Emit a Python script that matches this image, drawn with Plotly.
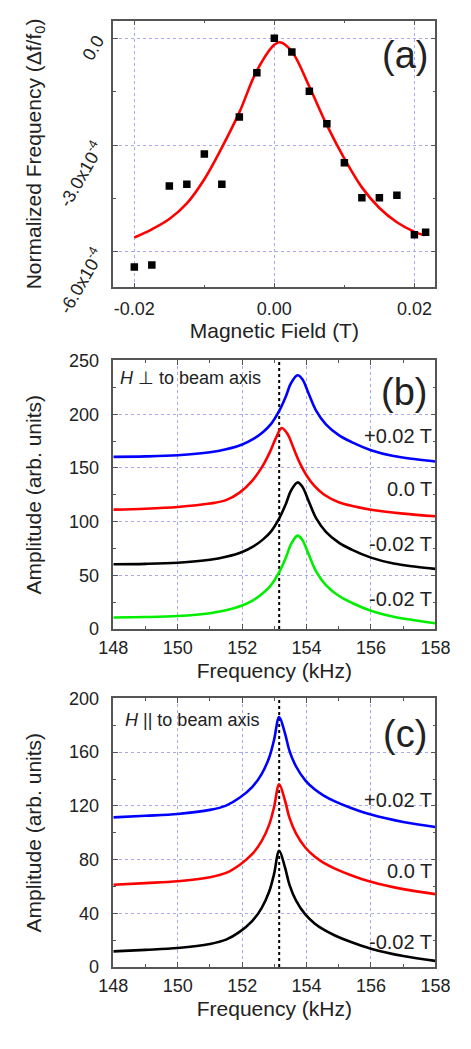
import plotly.graph_objects as go

# ---------------- Panel (a) data ----------------
a_field = [-0.02, -0.0175, -0.015, -0.0125, -0.01, -0.0075, -0.005, -0.0025, 0.0,
           0.0025, 0.005, 0.0075, 0.01, 0.0125, 0.015, 0.0175, 0.02, 0.0216]
a_dfreq = [-6.43e-4, -6.37e-4, -4.15e-4, -4.10e-4, -3.25e-4, -4.10e-4, -2.21e-4, -0.97e-4, 0.0,
           -0.38e-4, -1.49e-4, -2.40e-4, -3.50e-4, -4.48e-4, -4.48e-4, -4.41e-4, -5.52e-4, -5.45e-4]

fit_field = [-0.02, -0.0175, -0.015, -0.0125, -0.01, -0.0075, -0.005, -0.0025, 0.0, 0.0008,
             0.0025, 0.005, 0.0075, 0.01, 0.0125, 0.015, 0.0175, 0.02, 0.0215]
fit_dfreq = [-5.60e-4, -5.37e-4, -5.08e-4, -4.64e-4, -3.96e-4, -3.07e-4, -2.08e-4, -0.91e-4, -0.18e-4, -0.11e-4,
             -0.37e-4, -1.36e-4, -2.44e-4, -3.38e-4, -4.19e-4, -4.77e-4, -5.17e-4, -5.44e-4, -5.54e-4]

a_yticks = [0.0, -3.0e-4, -6.0e-4]
a_yticklabels = ["0.0", "-3.0x10<sup>-4</sup>", "-6.0x10<sup>-4</sup>"]
a_xticks = [-0.02, 0.0, 0.02]
a_xticklabels = ["-0.02", "0.00", "0.02"]

# ---------------- Panel (b) data (H perpendicular) ----------------
b_freq = [148, 149, 150, 151, 151.5, 152, 152.35, 152.65, 152.9, 153.15, 153.35, 153.52, 153.72,
          153.87, 154.06, 154.3, 154.6, 155.0, 155.4, 156, 156.7, 157.4, 158]
b_plus = [160.3, 160.7, 161.8, 164.5, 167.3, 171.8, 177.0, 183.5, 191.0, 203.0, 216.0, 229.0, 236.2,
          232.5, 219.5, 203.0, 190.5, 180.5, 174.0, 166.5, 161.0, 158.0, 156.0]
b_minus = [60.3, 60.7, 61.8, 64.5, 67.3, 71.8, 77.0, 83.5, 91.0, 103.0, 116.0, 129.0, 136.5,
           132.5, 119.5, 103.0, 90.5, 80.5, 74.0, 66.5, 61.0, 58.0, 56.0]
b_minus2 = [10.8, 11.2, 12.2, 14.8, 17.5, 22.0, 27.0, 33.5, 41.0, 53.0, 66.0, 79.0, 87.0,
            83.0, 70.0, 53.5, 41.0, 31.0, 24.5, 17.0, 11.5, 8.0, 5.5]
b_zero_freq = [148, 149, 150, 151, 151.5, 151.92, 152.31, 152.6, 152.85, 153.05, 153.23, 153.42,
               153.6, 153.8, 154.0, 154.25, 154.55, 155.0, 155.5, 156, 157, 158]
b_zero = [111.2, 112.0, 113.6, 116.8, 120.0, 127.0, 138.0, 150.0, 164.0, 178.0, 187.2, 181.0,
          168.0, 154.0, 143.0, 133.0, 125.0, 118.0, 114.0, 111.0, 107.5, 105.0]

# ---------------- Panel (c) data (H parallel) ----------------
c_freq = [148, 149, 150, 151, 151.5, 151.92, 152.31, 152.6, 152.84, 152.99, 153.15, 153.33, 153.47,
          153.67, 153.96, 154.25, 154.52, 154.88, 155.36, 156, 157, 158]
c_plus = [111.4, 112.6, 114.0, 117.0, 120.2, 126.0, 134.0, 143.5, 156.0, 169.0, 186.1, 174.0, 161.0,
          149.5, 139.0, 132.3, 127.8, 123.3, 118.6, 113.5, 108.0, 104.3]
c_zero = [61.3, 62.5, 63.9, 66.9, 70.1, 76.0, 84.0, 93.5, 106.0, 119.0, 136.0, 124.0, 111.0,
          99.5, 89.0, 82.3, 77.8, 73.3, 68.6, 63.5, 58.0, 54.3]
c_minus = [11.7, 12.8, 14.2, 17.2, 20.4, 26.2, 34.2, 43.7, 56.2, 69.2, 86.6, 74.2, 61.2,
           49.7, 39.2, 32.5, 28.0, 23.5, 18.8, 13.7, 8.2, 4.6]

ref_freq = 153.15   # dotted reference line (kHz)
b_ymax = 250
c_ymax = 200

FONT = "Liberation Sans, Arial, sans-serif"
TXT = "#222222"
GRID = "#a9a9f0"
FRAME = "#555555"

fig = go.Figure()

# panel (a)
fig.add_trace(go.Scatter(x=fit_field, y=fit_dfreq, mode="lines",
                         line=dict(color="#ff0000", width=2.6, shape="spline", smoothing=1.0),
                         xaxis="x", yaxis="y", showlegend=False))
fig.add_trace(go.Scatter(x=a_field, y=a_dfreq, mode="markers",
                         marker=dict(symbol="square", size=7.5, color="black"),
                         xaxis="x", yaxis="y", showlegend=False))

# panel (b)
fig.add_trace(go.Scatter(x=[ref_freq, ref_freq], y=[0, b_ymax], mode="lines",
                         line=dict(color="black", width=2, dash="dot"), xaxis="x2", yaxis="y2", showlegend=False))
for xs, ys, col in [(b_freq, b_plus, "#0000ff"), (b_zero_freq, b_zero, "#ff0000"),
                    (b_freq, b_minus, "#000000"), (b_freq, b_minus2, "#00ee00")]:
    fig.add_trace(go.Scatter(x=xs, y=ys, mode="lines",
                             line=dict(color=col, width=2.6, shape="spline", smoothing=1.0),
                             xaxis="x2", yaxis="y2", showlegend=False))

# panel (c)
fig.add_trace(go.Scatter(x=[ref_freq, ref_freq], y=[0, c_ymax], mode="lines",
                         line=dict(color="black", width=2, dash="dot"), xaxis="x3", yaxis="y3", showlegend=False))
for ys, col in [(c_plus, "#0000ff"), (c_zero, "#ff0000"), (c_minus, "#000000")]:
    fig.add_trace(go.Scatter(x=c_freq, y=ys, mode="lines",
                             line=dict(color=col, width=2.6, shape="spline", smoothing=1.0),
                             xaxis="x3", yaxis="y3", showlegend=False))

W, H = 471, 1049
xdom = [105 / W, 449 / W]
dom_a = [1 - 288 / H, 1 - 11 / H]
dom_b = [1 - 643 / H, 1 - 364 / H]
dom_c = [1 - 994 / H, 1 - 715 / H]

def ax(**kw):
    base = dict(showline=True, linecolor=FRAME, linewidth=1.5, mirror="ticks",
                ticks="inside", ticklen=5, tickwidth=1.2, tickcolor=FRAME,
                showgrid=True, gridcolor=GRID, griddash="dot", gridwidth=1,
                zeroline=False, tickfont=dict(family=FONT, size=18, color=TXT),
                title_font=dict(family=FONT, size=21, color=TXT))
    base.update(kw)
    return base

def minor(vals):
    return dict(tickvals=vals, ticks="inside", ticklen=3, tickcolor=FRAME, showgrid=False)

fig.update_layout(
    width=W, height=H, margin=dict(l=0, r=0, t=0, b=0),
    paper_bgcolor="white", plot_bgcolor="white",
    xaxis=ax(domain=xdom, anchor="y", range=[-0.023, 0.023], tickvals=a_xticks, ticktext=a_xticklabels,
             minor=minor([-0.01, 0.01]),
             title=dict(text="Magnetic Field (T)", standoff=6), ticklabelstandoff=4),
    yaxis=ax(domain=dom_a, anchor="x", range=[-7.0e-4, 0.5e-4], tickvals=a_yticks, ticktext=a_yticklabels,
             tickangle=-60, minor=minor([-1.5e-4, -4.5e-4]),
             title=dict(text="Normalized Frequency (Δf/f<sub>0</sub>)", standoff=6), ticklabelstandoff=11),
    xaxis2=ax(domain=xdom, anchor="y2", range=[148, 158], tickvals=[148, 150, 152, 154, 156, 158],
              minor=minor([149, 151, 153, 155, 157]),
              title=dict(text="Frequency (kHz)", standoff=6), ticklabelstandoff=2),
    yaxis2=ax(domain=dom_b, anchor="x2", range=[0, b_ymax], tickvals=[0, 50, 100, 150, 200, 250],
              minor=minor([25, 75, 125, 175, 225]),
              title=dict(text="Amplitude (arb. units)", standoff=22), ticklabelstandoff=9),
    xaxis3=ax(domain=xdom, anchor="y3", range=[148, 158], tickvals=[148, 150, 152, 154, 156, 158],
              minor=minor([149, 151, 153, 155, 157]),
              title=dict(text="Frequency (kHz)", standoff=6), ticklabelstandoff=2),
    yaxis3=ax(domain=dom_c, anchor="x3", range=[0, c_ymax], tickvals=[0, 40, 80, 120, 160, 200],
              minor=minor([20, 60, 100, 140, 180]),
              title=dict(text="Amplitude (arb. units)", standoff=22), ticklabelstandoff=9),
)

def note(text, x, y, size, xanchor="center", yanchor="middle"):
    fig.add_annotation(text=text, x=x / W, y=1 - y / H, xref="paper", yref="paper", showarrow=False,
                       xanchor=xanchor, yanchor=yanchor, font=dict(family=FONT, size=size, color=TXT))

note("(a)", 417, 47, 38)
note("(b)", 415, 397, 38)
note("(c)", 417, 752, 38)
note("<i>H</i> ⊥ to beam axis", 110, 382, 18, xanchor="left")
note("<i>H</i> || to beam axis", 115, 737, 18, xanchor="left")
for t, y in [("+0.02 T", 442), ("0.0 T", 498), ("-0.02 T", 555), ("-0.02 T", 612)]:
    note(t, 447, y, 20, xanchor="right")
for t, y in [("+0.02 T", 820), ("0.0 T", 894), ("-0.02 T", 968)]:
    note(t, 447, y, 20, xanchor="right")

fig.write_html("out.html")
